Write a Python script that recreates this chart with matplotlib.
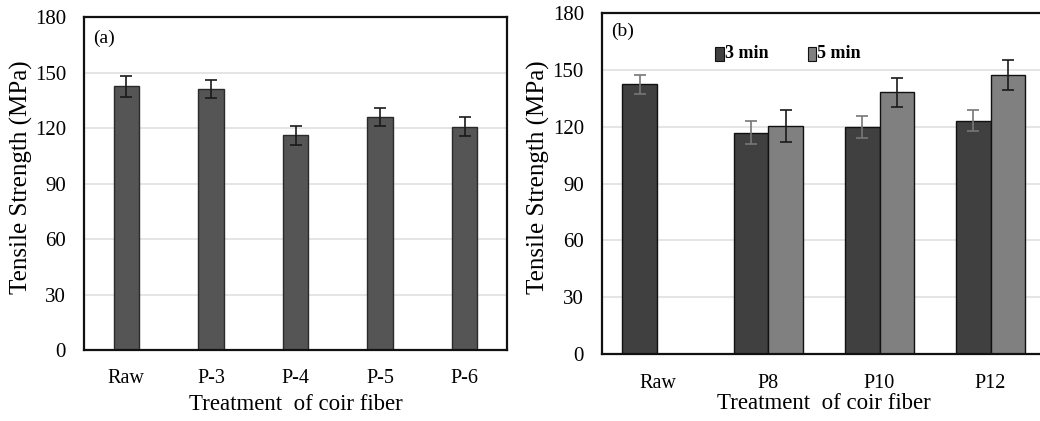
import matplotlib
matplotlib.use("Agg")
import matplotlib.pyplot as plt
import numpy as np
from matplotlib.patches import Rectangle

plt.rcParams['font.family'] = ['Liberation Serif', 'DejaVu Serif']

# Panel (a)
cats_a = ["Raw", "P-3", "P-4", "P-5", "P-6"]
vals_a = [142.5, 141, 116, 126, 120.8]
err_a = [5.5, 5, 5, 5, 5]

# Panel (b)
cats_b = ["Raw", "P8", "P10", "P12"]
vals_3min = [142.4, 116.8, 119.9, 123.2]
err_3min = [5, 6, 6, 5.7]
vals_5min = [np.nan, 120.5, 138.2, 147.3]
err_5min = [0, 8.5, 7.7, 8]
legend_labels = ["3 min", "5 min"]

yticks = [0, 30, 60, 90, 120, 150, 180]

fig = plt.figure(figsize=(10.4, 4.21), dpi=100)
axA = fig.add_axes([0.0808, 0.1686, 0.4067, 0.791])
axB = fig.add_axes([0.5788, 0.159, 0.427, 0.81])

def style(ax, ncat, labx):
    ax.set_ylim(0, 180)
    ax.set_xlim(-0.5, ncat - 0.5)
    ax.set_yticks(yticks)
    ax.yaxis.grid(True, color='#e0e0e0', linewidth=1.2)
    ax.set_axisbelow(True)
    ax.tick_params(axis='both', length=0, labelsize=14.5)
    ax.tick_params(axis='y', pad=13, labelsize=15)
    ax.tick_params(axis='x', pad=14)
    for s in ax.spines.values():
        s.set_linewidth(1.6)
        s.set_color('#111111')
    ax.set_ylabel("Tensile Strength (MPa)", fontsize=18)
    ax.yaxis.set_label_coords(labx, 0.52)

# Panel a
xa = np.arange(len(cats_a))
axA.bar(xa, vals_a, width=0.3, color='#555555', edgecolor='#2a2a2a', linewidth=1.0)
axA.errorbar(xa, vals_a, yerr=err_a, fmt='none', ecolor='#1a1a1a', elinewidth=1.2, capsize=4, capthick=1.2)
style(axA, len(cats_a), -0.12)
axA.set_xticks(xa)
axA.set_xticklabels(cats_a)
axA.set_xlabel("Treatment  of coir fiber", fontsize=16.5, labelpad=4)
axA.text(0.022, 0.935, "(a)", transform=axA.transAxes, fontsize=14, ha='left', va='center')

# Panel b
xb = np.arange(len(cats_b))
w = 0.315
axB.bar(xb - w/2, vals_3min, width=w, color='#404040', edgecolor='#111111', linewidth=1.0)
axB.bar(xb + w/2, vals_5min, width=w, color='#808080', edgecolor='#111111', linewidth=1.0)
axB.errorbar(xb - w/2, vals_3min, yerr=err_3min, fmt='none', ecolor='#777777', elinewidth=1.2, capsize=4, capthick=1.2)
m = ~np.isnan(np.array(vals_5min))
axB.errorbar((xb + w/2)[m], np.array(vals_5min)[m], yerr=np.array(err_5min)[m], fmt='none',
             ecolor='#1a1a1a', elinewidth=1.2, capsize=4, capthick=1.2)
style(axB, len(cats_b), -0.116)
axB.spines['right'].set_visible(False)
axB.set_xticks(xb)
axB.set_xticklabels(cats_b)
axB.set_xlabel("Treatment  of coir fiber", fontsize=16.5, labelpad=0)
axB.text(0.02, 0.945, "(b)", transform=axB.transAxes, fontsize=14, ha='left', va='center')

# legend
for lx, lab, col in [(0.255, legend_labels[0], '#404040'), (0.464, legend_labels[1], '#808080')]:
    axB.add_patch(Rectangle((lx, 0.86), 0.019, 0.04, transform=axB.transAxes,
                            facecolor=col, edgecolor='#111111', linewidth=0.8, clip_on=False))
    axB.text(lx + 0.021, 0.88, lab, transform=axB.transAxes, fontsize=13,
             fontweight='bold', ha='left', va='center')

fig.savefig("out.png", dpi=100)
